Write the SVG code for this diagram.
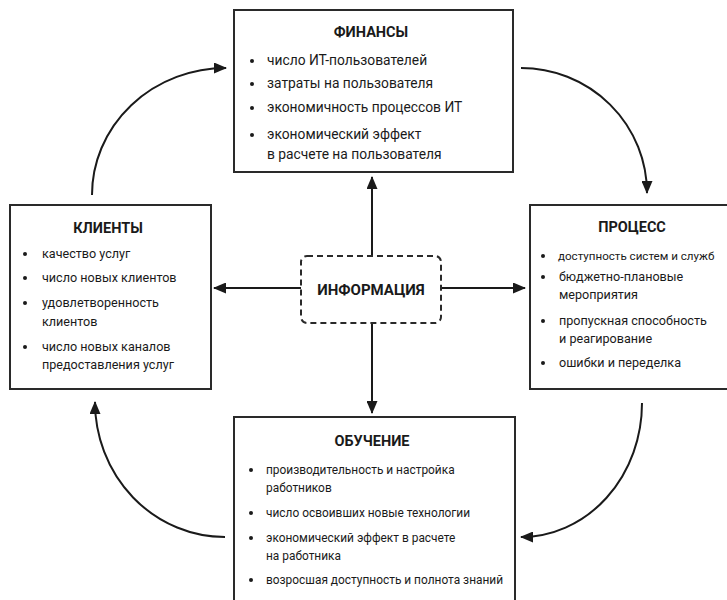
<svg xmlns="http://www.w3.org/2000/svg" width="727" height="600" viewBox="0 0 727 600">
<defs>
<marker id="ah" markerWidth="13" markerHeight="11" refX="12" refY="5.5" orient="auto" markerUnits="userSpaceOnUse">
<path d="M0,0 L13,5.5 L0,11 Z" fill="#1a1a1a"/>
</marker>
<style>
.box{fill:#fff;stroke:#2a2a2a;stroke-width:2}
.info{fill:#fff;stroke:#2a2a2a;stroke-width:2;stroke-dasharray:6 4}
.t{font-family:Roboto,"Liberation Sans",sans-serif;font-size:12.6px;fill:#1a1a1a}
.tf{font-size:13.8px}
.tl{font-size:11.9px}
.h{font-family:Roboto,"Liberation Sans",sans-serif;font-size:14.5px;font-weight:bold;fill:#1a1a1a;text-anchor:middle}
.b{fill:#1a1a1a}
.c{fill:none;stroke:#1a1a1a;stroke-width:2;marker-end:url(#ah)}
</style>
</defs>
<rect width="727" height="600" fill="#fff"/>
<g id="connectors">
<path class="c" d="M92,195 A134,127 0 0 1 226,68"/>
<path class="c" d="M521,68 A126,125 0 0 1 647,193"/>
<path class="c" d="M642,403 A121,134 0 0 1 521,537"/>
<path class="c" d="M225,537 A130,135 0 0 1 95,402"/>
<path class="c" d="M372,256 L372,177"/>
<path class="c" d="M372,323 L372,413"/>
<path class="c" d="M301,288 L214,288"/>
<path class="c" d="M441,288 L525,288"/>
</g>
<g id="finance">
<rect class="box" x="234" y="10" width="279" height="162"/>
<text class="h" x="371" y="37">ФИНАНСЫ</text>
<circle class="b" cx="252" cy="61" r="2"/>
<text class="t tf" x="267" y="65">число ИТ-пользователей</text>
<circle class="b" cx="252" cy="84" r="2"/>
<text class="t tf" x="267" y="88">затраты на пользователя</text>
<circle class="b" cx="252" cy="108" r="2"/>
<text class="t tf" x="267" y="112">экономичность процессов ИТ</text>
<circle class="b" cx="252" cy="135" r="2"/>
<text class="t tf" x="267" y="139">экономический эффект</text>
<text class="t tf" x="267" y="159">в расчете на пользователя</text>
</g>
<g id="clients">
<rect class="box" x="10" y="205" width="201" height="184"/>
<text class="h" x="108" y="233">КЛИЕНТЫ</text>
<circle class="b" cx="25" cy="254" r="2"/>
<text class="t" x="42" y="258">качество услуг</text>
<circle class="b" cx="25" cy="278" r="2"/>
<text class="t" x="42" y="282">число новых клиентов</text>
<circle class="b" cx="25" cy="303" r="2"/>
<text class="t" x="42" y="307">удовлетворенность</text>
<text class="t" x="42" y="326">клиентов</text>
<circle class="b" cx="25" cy="347" r="2"/>
<text class="t" x="42" y="351">число новых каналов</text>
<text class="t" x="42" y="369">предоставления услуг</text>
</g>
<g id="process">
<rect class="box" x="530" y="205" width="210" height="184"/>
<text class="h" x="632" y="232">ПРОЦЕСС</text>
<circle class="b" cx="543" cy="256" r="2"/>
<text class="t" x="558" y="260" style="font-size:11.6px">доступность систем и служб</text>
<circle class="b" cx="543" cy="277" r="2"/>
<text class="t" x="559" y="281">бюджетно-плановые</text>
<text class="t" x="559" y="299">мероприятия</text>
<circle class="b" cx="543" cy="321" r="2"/>
<text class="t" x="559" y="325">пропускная способность</text>
<text class="t" x="559" y="343">и реагирование</text>
<circle class="b" cx="543" cy="363" r="2"/>
<text class="t" x="559" y="367">ошибки и переделка</text>
</g>
<g id="learning">
<rect class="box" x="234" y="417" width="281" height="195"/>
<text class="h" x="372" y="446">ОБУЧЕНИЕ</text>
<circle class="b" cx="251" cy="470" r="2"/>
<text class="t tl" x="266" y="474">производительность и настройка</text>
<text class="t tl" x="266" y="492">работников</text>
<circle class="b" cx="251" cy="513" r="2"/>
<text class="t tl" x="266" y="517">число освоивших новые технологии</text>
<circle class="b" cx="251" cy="538" r="2"/>
<text class="t tl" x="266" y="542">экономический эффект в расчете</text>
<text class="t tl" x="266" y="560">на работника</text>
<circle class="b" cx="251" cy="580" r="2"/>
<text class="t tl" x="266" y="584">возросшая доступность и полнота знаний</text>
</g>
<g id="info">
<rect class="info" x="301" y="256" width="140" height="67" rx="6"/>
<text class="h" x="371" y="295" style="font-size:15px">ИНФОРМАЦИЯ</text>
</g>
</svg>
